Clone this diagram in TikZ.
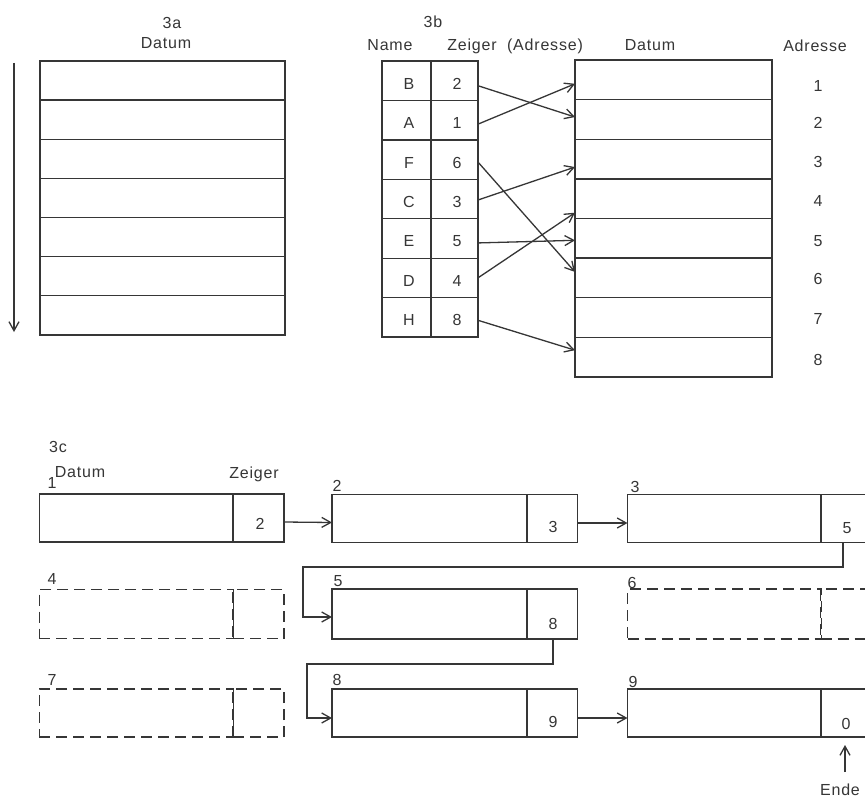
\documentclass[tikz,border=0pt]{standalone}
\usepackage{fontspec}
\setmainfont{Liberation Sans}[LetterSpace=5]
\usetikzlibrary{arrows.meta}
\definecolor{ink}{HTML}{363636}
\begin{document}
\begin{tikzpicture}[x=1pt,y=-1pt,
  ln/.style={draw=ink, line width=1.3pt},
  arr/.style={ln, -{Straight Barb[length=9pt,width=10pt,line width=1.3pt]}},
  lbl/.style={inner sep=0pt, outer sep=0pt, text=ink, font=\fontsize{16}{19}\selectfont, text depth=0pt},
  cell/.style={ln, inner sep=0pt, outer sep=0pt},
  rowa/.style={cell, minimum width=245pt, minimum height=39.14pt},
  namecell/.style={cell, minimum width=49pt, minimum height=39.43pt},
  ptrcell/.style={cell, minimum width=47pt, minimum height=39.43pt},
  rowb/.style={cell, minimum width=197pt, minimum height=39.625pt},
  datl/.style={cell, minimum width=194pt, minimum height=48pt},
  datm/.style={cell, minimum width=195pt, minimum height=48pt},
  ptrc/.style={cell, minimum width=51pt, minimum height=48pt},
  ghost/.style={dash pattern=on 11pt off 6pt}
]
\fill[white] (0,0) rectangle (865,800);
\clip (0,0) rectangle (865,800);

% ---------- 3a ----------
\node[lbl] (t3a) at (172,23) {3a};
\node[lbl] (h3a) at (166,43) {Datum};
\foreach \i in {1,...,7}
  \node[rowa] (a\i) at (162.5,{61+39.14*(\i-0.5)}) {};
\coordinate (arrtop) at (14,63);
\coordinate (arrbot) at (14,332);
\draw[arr] (arrtop) -- (arrbot);

% ---------- 3b ----------
\node[lbl] (t3b) at (433,22) {3b};
\node[lbl] (hname) at (390,45) {Name};
\node[lbl] (hzeig) at (472,45) {Zeiger};
\node[lbl] (hadr) at (545,45) {(Adresse)};
\node[lbl] (hdat) at (650,45) {Datum};
\node[lbl] (hadr2) at (815,46) {Adresse};
\foreach \n/\p [count=\i] in {B/2,A/1,F/6,C/3,E/5,D/4,H/8} {
  \node[namecell] (n\i) at (406.5,{61+39.43*(\i-0.5)}) {};
  \node[ptrcell] (p\i) at (454.5,{61+39.43*(\i-0.5)}) {};
  \node[lbl] (nt\i) at ([xshift=2.5pt,yshift=-3pt]n\i.center) {\n};
  \node[lbl] (pt\i) at ([xshift=2.5pt,yshift=-3pt]p\i.center) {\p};
}
\foreach \i in {1,...,8}
  \node[rowb] (d\i) at (673.5,{60+39.625*(\i-0.5)}) {};
\foreach \y [count=\i] in {86,123,162,201,241,279,319,360}
  \node[lbl] (adr\i) at (818,\y) {\i};

\draw[arr] ([yshift=-5pt]p1.east) -- ([yshift=2.4pt]d2.west);
\draw[arr] ([yshift=-4pt]p2.east) -- ([yshift=-4pt]d1.west);
\draw[arr] ([yshift=-2.5pt]p3.east) -- ([yshift=6pt]d6.west);
\draw[arr] ([yshift=-1pt]p4.east) -- ([yshift=-8pt]d3.west);
\draw[arr] ([yshift=-4.5pt]p5.east) -- ([yshift=-2pt]d5.west);
\draw[arr] (p6.east) -- ([yshift=-14pt]d4.west);
\draw[arr] ([yshift=-3pt]p7.east) -- ([yshift=7pt]d8.west);

% ---------- 3c ----------
\node[lbl] (t3c) at (58,447) {3c};
\node[lbl] (hdat3c) at (80,472) {Datum};
\node[lbl] (hzeig3c) at (254,473) {Zeiger};

% row 1
\node[datl] (b1) at (136.2,518) {};
\node[ptrc] (q1) at (258.5,518) {};
\node[datm] (b2) at (429.5,518.5) {};
\node[ptrc] (q2) at (552,518.5) {};
\node[datl] (b3) at (724.5,518.5) {};
\node[ptrc] (q3) at (846,518.5) {};
% row 2
\node[datl,ghost,minimum height=49pt] (b4) at (136.2,614) {};
\node[ptrc,ghost,minimum height=49pt] (q4) at (258.5,614) {};
\node[datm,minimum height=50pt] (b5) at (429.5,614) {};
\node[ptrc,minimum height=50pt] (q5) at (552,614) {};
\node[datl,ghost,minimum height=50pt] (b6) at (724.5,614) {};
\node[ptrc,ghost,minimum height=50pt] (q6) at (846,614) {};
% row 3
\node[datl,ghost] (b7) at (136.2,713) {};
\node[ptrc,ghost] (q7) at (258.5,713) {};
\node[datm] (b8) at (429.5,713) {};
\node[ptrc] (q8) at (552,713) {};
\node[datl] (b9) at (724.5,713) {};
\node[ptrc] (q9) at (846,713) {};

% box numbers
\node[lbl] (l1) at (52,483) {1};
\node[lbl] (l2) at (337,486) {2};
\node[lbl] (l3) at (635,487) {3};
\node[lbl] (l4) at (52,579) {4};
\node[lbl] (l5) at (338,581) {5};
\node[lbl] (l6) at (632,583) {6};
\node[lbl] (l7) at (52,680) {7};
\node[lbl] (l8) at (337,680) {8};
\node[lbl] (l9) at (633,682) {9};

% pointer values
\node[lbl] (v1) at (260,524) {2};
\node[lbl] (v2) at (553,527) {3};
\node[lbl] (v3) at (847,528) {5};
\node[lbl] (v5) at (553,624) {8};
\node[lbl] (v8) at (553,722) {9};
\node[lbl] (v9) at (846,724) {0};

% links
\draw[arr] ([yshift=-4pt]q1.east) -- ([yshift=-4pt]b2.west);
\draw[arr] ([yshift=-4.5pt]q2.east) -- ([yshift=-4.5pt]b3.west);
\coordinate (k1a) at (843,567);
\coordinate (k1b) at (303,567);
\draw[arr] (k1a |- q3.south) -- (k1a) -- (k1b) |- ([yshift=-3pt]b5.west);
\coordinate (k2a) at (553,664);
\coordinate (k2b) at (307,664);
\draw[arr] (k2a |- q5.south) -- (k2a) -- (k2b) |- ([yshift=-5pt]b8.west);
\draw[arr] ([yshift=-5pt]q8.east) -- ([yshift=-5pt]b9.west);

% Ende
\node[lbl] (ende) at (840,790) {Ende};
\coordinate (e1) at (845,772);
\coordinate (e2) at (845,745);
\draw[arr] (e1) -- (e2);
\end{tikzpicture}
\end{document}
